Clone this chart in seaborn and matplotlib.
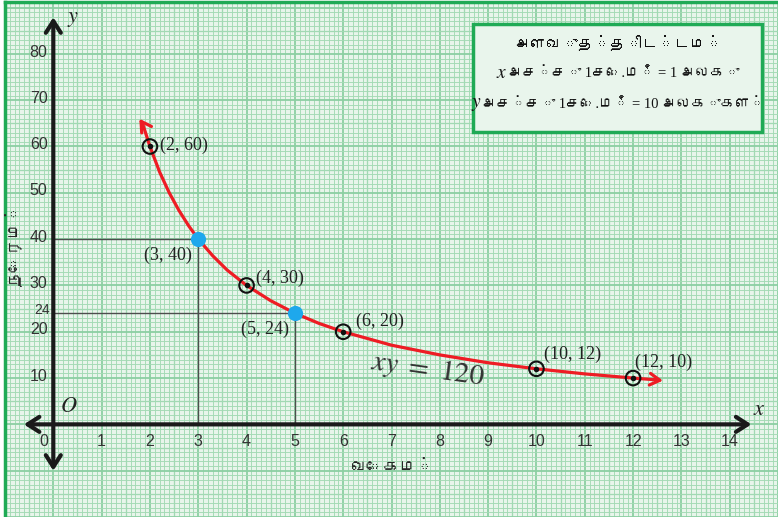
import matplotlib
matplotlib.use("Agg")
import matplotlib.pyplot as plt
import numpy as np
import pandas as pd
import seaborn as sns
from matplotlib import font_manager

# values
curve_x = [1.85, 2.0, 2.2, 2.4, 2.6, 2.8, 3.0, 3.3, 3.6, 4.0, 4.5, 5.0,
           5.5, 6.0, 7.0, 8.0, 9.0, 10.0, 11.0, 12.0, 12.45]
curve_y = [64.9, 60.0, 54.5, 50.0, 46.2, 42.9, 40.0, 36.4, 33.3, 30.0, 26.7, 24.0,
           21.8, 20.0, 17.1, 15.0, 13.3, 12.0, 10.9, 10.0, 9.64]

ring_x = [2, 4, 6, 10, 12]
ring_y = [60, 30, 20, 12, 10]
blue_x = [3, 5]
blue_y = [40, 24]

x_ticks = list(range(0, 15))
y_ticks = [10, 20, 30, 40, 50, 60, 70, 80]

legend_title = "அளவுத்திட்டம்"
legend_vars = ["x", "y"]
legend_rest = ["அச்சு 1செ.மீ = 1 அலகு", "அச்சு 1செ.மீ = 10 அலகுகள்"]
x_title = "வேகம்"
y_title = "நேரம்"
eq_text = "xy = 120"


def tamil_family():
    # look for any installed font that has Tamil glyphs
    try:
        from fontTools.ttLib import TTFont
        for path in font_manager.findSystemFonts():
            try:
                f = TTFont(path, fontNumber=0, lazy=True)
                if 0x0B85 in f.getBestCmap():
                    return font_manager.FontProperties(fname=path).get_name()
            except Exception:
                pass
    except Exception:
        pass
    return "DejaVu Sans"


sns.set_theme(style="white")
plt.rcParams["font.family"] = ["Liberation Sans", "DejaVu Sans"]
plt.rcParams["mathtext.fontset"] = "stix"
tamil = tamil_family()
TAMIL = [tamil, "DejaVu Sans"]
MIXED = ["Liberation Serif", tamil, "DejaVu Sans"]
SERIF = "Liberation Serif"
SANS = "Liberation Sans"

fig = plt.figure(figsize=(7.78, 5.17), dpi=100)
fig.patch.set_facecolor("white")
ax = fig.add_axes([5 / 778, 0, 773 / 778, 515 / 517])
ax.set_facecolor("#e8f5eb")
ax.set_xlim(-0.96, 14.88)
ax.set_ylim(-14.6, 91.2)

# graph paper
ax.set_xticks(np.arange(-1, 15.01, 1))
ax.set_yticks(np.arange(-20, 91, 10))
ax.set_xticks(np.arange(-1, 15.01, 0.1), minor=True)
ax.set_yticks(np.arange(-20, 92, 1), minor=True)
ax.grid(which="minor", color="#a3dab4", linewidth=0.65)
ax.grid(which="major", color="#8ccfa2", linewidth=1.3)
for v in np.arange(-0.5, 15, 1):
    ax.axvline(v, color="#98d4ab", linewidth=0.9, zorder=0.5)
for v in np.arange(-15, 91, 10):
    ax.axhline(v, color="#98d4ab", linewidth=0.9, zorder=0.5)
ax.set_axisbelow(True)
ax.tick_params(which="both", length=0, labelbottom=False, labelleft=False)
for side in ["right", "bottom"]:
    ax.spines[side].set_visible(False)
for side in ["left", "top"]:
    ax.spines[side].set_color("#1faa55")
    ax.spines[side].set_linewidth(2.5)

# axes with arrows
arrow_kw = dict(arrowstyle="<->,head_length=0.7,head_width=0.45", color="#1a1a1a",
                lw=3, shrinkA=0, shrinkB=0)
ax.annotate("", xy=(14.45, 0), xytext=(-0.61, 0), arrowprops=arrow_kw, zorder=4)
ax.annotate("", xy=(0, 87.9), xytext=(0, -10.0), arrowprops=arrow_kw, zorder=4)

for t in x_ticks:
    ax.text(t if t else -0.2, -3.6, str(t), ha="center", va="center",
            fontsize=11.5, color="#333333", family=SANS)
for t in y_ticks:
    ax.text(-0.12, t + 0.4, str(t), ha="right", va="center",
            fontsize=11.5, color="#333333", family=SANS)
ax.text(-0.08, 24.8, "24", ha="right", va="center", fontsize=10,
        color="#333333", family=SANS)

ax.text(0.33, 3.8, "$O$", fontsize=16, ha="center", va="center", color="#222222")
ax.text(14.62, 3.2, "$x$", fontsize=16, ha="center", va="center", color="#222222")
ax.text(0.4, 87.6, "$y$", fontsize=16, ha="center", va="center", color="#222222")

ax.text(7.03, -9.4, x_title, ha="center", va="center", fontsize=12,
        fontweight="bold", family=TAMIL)
ax.text(-0.85, 38.6, y_title, ha="center", va="center", fontsize=12,
        fontweight="bold", family=TAMIL, rotation=90)

# guide lines to the blue points
for px, py in zip(blue_x, blue_y):
    ax.plot([0, px], [py, py], color="#4d4d4d", lw=1, zorder=3)
    ax.plot([px, px], [0, py], color="#4d4d4d", lw=1, zorder=3)

# the curve xy = 120
curve = pd.DataFrame({"x": curve_x, "y": curve_y})
sns.lineplot(data=curve, x="x", y="y", sort=False, color="#ee1c24", lw=2.3,
             ax=ax, zorder=5)
head_kw = dict(arrowstyle="->,head_length=0.6,head_width=0.35", color="#ee1c24",
               lw=2.3, shrinkA=0, shrinkB=0)
ax.annotate("", xy=(1.78, 66.0), xytext=(curve_x[0], curve_y[0]), arrowprops=head_kw, zorder=5)
ax.annotate("", xy=(12.62, 9.45), xytext=(curve_x[-1], curve_y[-1]), arrowprops=head_kw, zorder=5)

rings = pd.DataFrame({"x": ring_x, "y": ring_y})
sns.scatterplot(data=rings, x="x", y="y", s=110, facecolor="none", edgecolor="#111111",
                linewidth=1.5, ax=ax, zorder=6)
sns.scatterplot(data=rings, x="x", y="y", s=16, color="#111111", linewidth=0, ax=ax, zorder=7)
blues = pd.DataFrame({"x": blue_x, "y": blue_y})
sns.scatterplot(data=blues, x="x", y="y", s=120, color="#1ea8ec", linewidth=0, ax=ax, zorder=7)

# point labels (offset, alignment)
label_pos = {(2, 60): (0.21, 0.2, "left"), (4, 30): (0.2, 1.6, "left"),
             (6, 20): (0.27, 2.2, "left"), (10, 12): (0.16, 3.2, "left"),
             (12, 10): (0.05, 3.5, "left"), (3, 40): (-0.14, -3.5, "right"),
             (5, 24): (-0.12, -3.5, "right")}
for px, py in zip(ring_x + blue_x, ring_y + blue_y):
    dx, dy, ha = label_pos[(px, py)]
    ax.text(px + dx, py + dy, f"({px}, {py})", ha=ha, va="center", fontsize=13,
            family=SERIF, color="#222222", zorder=8)

eq_math = "$" + eq_text.replace(" ", r"\ ") + "$"
ax.text(7.75, 11.8, eq_math, fontsize=21, ha="center", va="center",
        rotation=-8, color="#333333")

# scale box
box = plt.Rectangle((8.69, 63.2), 5.98, 23.2, facecolor="#e9f5ec", edgecolor="#1faa55",
                    lw=2.5, zorder=9)
ax.add_patch(box)
ax.text(11.68, 82.3, legend_title, ha="center", va="center", fontsize=11.5,
        family=TAMIL, color="#111111", zorder=10)
for var, rest, yy in zip(legend_vars, legend_rest, [75.8, 69.0]):
    t = ax.text(11.8, yy, rest, ha="center", va="center", fontsize=10.5,
                family=MIXED, color="#111111", zorder=10)
    ax.annotate(f"${var}$", xy=(0, 0.5), xycoords=t, ha="right", va="center",
                fontsize=14, color="#111111", zorder=10)

fig.savefig("out.png", dpi=100)
